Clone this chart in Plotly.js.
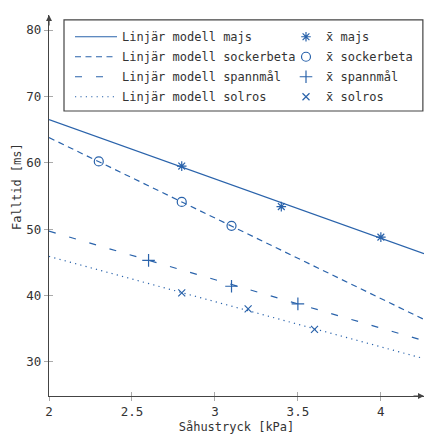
<!DOCTYPE html>
<html>
<head>
<meta charset="utf-8">
<script src="https://cdn.plot.ly/plotly-3.0.1.min.js"></script>
<style>html,body{margin:0;padding:0;background:#fff;}#chart{width:425px;height:435px;}</style>
</head>
<body>
<div id="chart"></div>
<script>
// Model lines (end points)
const xLine = [2, 4.26];
const majsLine = [66.5, 46.3];
const sockerLine = [63.8, 36.4];
const spannLine = [49.7, 33.2];
const solrosLine = [45.9, 30.5];

// Mean values
const majsX = [2.8, 3.4, 4.0];
const majsY = [59.5, 53.4, 48.8];
const sockerX = [2.3, 2.8, 3.1];
const sockerY = [60.2, 54.1, 50.5];
const spannX = [2.6, 3.1, 3.5];
const spannY = [45.3, 41.4, 38.75];
const solrosX = [2.8, 3.2, 3.6];
const solrosY = [40.4, 38.0, 34.9];

const xTicks = [2, 2.5, 3, 3.5, 4];
const yTicks = [30, 40, 50, 60, 70, 80];

const blue = '#2a63ab';
const FONT = 'DejaVu Sans Mono';
const XR = [2, 4.26];
const YR = [24.87, 82.26];

function lineTrace(name, y, dash, g) {
  return {x: xLine, y: y, mode: 'lines', name: name, legend: 'legend', legendgroup: g,
    line: {color: blue, width: 1.2, dash: dash}, hoverinfo: 'skip'};
}
function markTrace(name, x, y, sym, size, g) {
  return {x: x, y: y, mode: 'markers', name: name, legend: 'legend2', legendgroup: g,
    marker: {color: blue, symbol: sym, size: size, line: {color: blue, width: 1.2}}, hoverinfo: 'skip'};
}

const data = [
  lineTrace('Linjär modell majs', majsLine, 'solid', 'a1'),
  lineTrace('Linjär modell sockerbeta', sockerLine, '6px,4.5px', 'a2'),
  lineTrace('Linjär modell spannmål', spannLine, '7px,14px', 'a3'),
  lineTrace('Linjär modell solros', solrosLine, '1.2px,4.2px', 'a4'),
  markTrace('x\u0304 majs', majsX, majsY, 'asterisk-open', 8, 'b1'),
  markTrace('x\u0304 sockerbeta', sockerX, sockerY, 'circle-open', 9, 'b2'),
  markTrace('x\u0304 spannmål', spannX, spannY, 'cross-thin-open', 9, 'b3'),
  markTrace('x\u0304 solros', solrosX, solrosY, 'x-thin-open', 7, 'b4'),
  {x: [], y: [], xaxis: 'x2', yaxis: 'y2', showlegend: false, mode: 'markers'}
];

const layout = {
  width: 425, height: 435,
  margin: {l: 49, r: 1, t: 15, b: 39},
  paper_bgcolor: '#fff', plot_bgcolor: '#fff',
  font: {family: FONT, size: 12, color: '#333'},
  showlegend: true,
  xaxis: {range: XR, tickvals: xTicks, ticktext: xTicks.map(String), showgrid: false, zeroline: false,
    showline: true, linecolor: '#444', linewidth: 1.2, ticks: 'outside', ticklen: 4, tickcolor: '#aaa', tickwidth: 1,
    tickfont: {size: 12.5, color: '#333'},
    title: {text: 'Såhustryck [kPa]', font: {size: 12, color: '#333'}, standoff: 4}},
  yaxis: {range: YR, tickvals: yTicks, ticktext: yTicks.map(String), showgrid: false, zeroline: false,
    showline: true, linecolor: '#444', linewidth: 1.2, ticks: 'outside', ticklen: 4, tickcolor: '#aaa', tickwidth: 1,
    tickfont: {size: 12.5, color: '#333'}},
  xaxis2: {range: XR, overlaying: 'x', anchor: 'y2', tickvals: xTicks, showticklabels: false, showgrid: false,
    zeroline: false, showline: false, ticks: 'inside', ticklen: 4, tickcolor: '#aaa', tickwidth: 1},
  yaxis2: {range: YR, overlaying: 'y', anchor: 'x2', tickvals: yTicks, showticklabels: false, showgrid: false,
    zeroline: false, showline: false, ticks: 'inside', ticklen: 4, tickcolor: '#aaa', tickwidth: 1},
  legend: {x: 0.056, y: 0.981, xanchor: 'left', yanchor: 'top', bgcolor: 'rgba(0,0,0,0)', borderwidth: 0,
    itemwidth: 42, font: {family: FONT, size: 12, color: '#333'}, tracegroupgap: 1},
  legend2: {x: 0.632, y: 0.981, xanchor: 'left', yanchor: 'top', bgcolor: 'rgba(0,0,0,0)', borderwidth: 0,
    font: {family: FONT, size: 12, color: '#333'}, tracegroupgap: 1},
  shapes: [{type: 'rect', xref: 'paper', yref: 'paper', x0: 0.04, x1: 0.997, y0: 0.748, y1: 0.987,
    line: {color: '#444', width: 1.2}, fillcolor: 'rgba(0,0,0,0)'}],
  annotations: [
    {xref: 'paper', yref: 'paper', x: 0, y: 1, ax: 0, ay: 12, showarrow: true, arrowhead: 2, arrowsize: 1,
      arrowwidth: 1.2, arrowcolor: '#444', text: ''},
    {xref: 'paper', yref: 'paper', x: 1, y: 0, ax: -12, ay: 0, showarrow: true, arrowhead: 2, arrowsize: 1,
      arrowwidth: 1.2, arrowcolor: '#444', text: ''},
    {xref: 'paper', yref: 'paper', x: -0.085, y: 0.549, text: 'Falltid [ms]', showarrow: false, textangle: -90,
      xanchor: 'center', yanchor: 'middle', font: {size: 12, color: '#333'}}
  ]
};

Plotly.newPlot('chart', data, layout, {staticPlot: true, displayModeBar: false});
</script>
</body>
</html>
